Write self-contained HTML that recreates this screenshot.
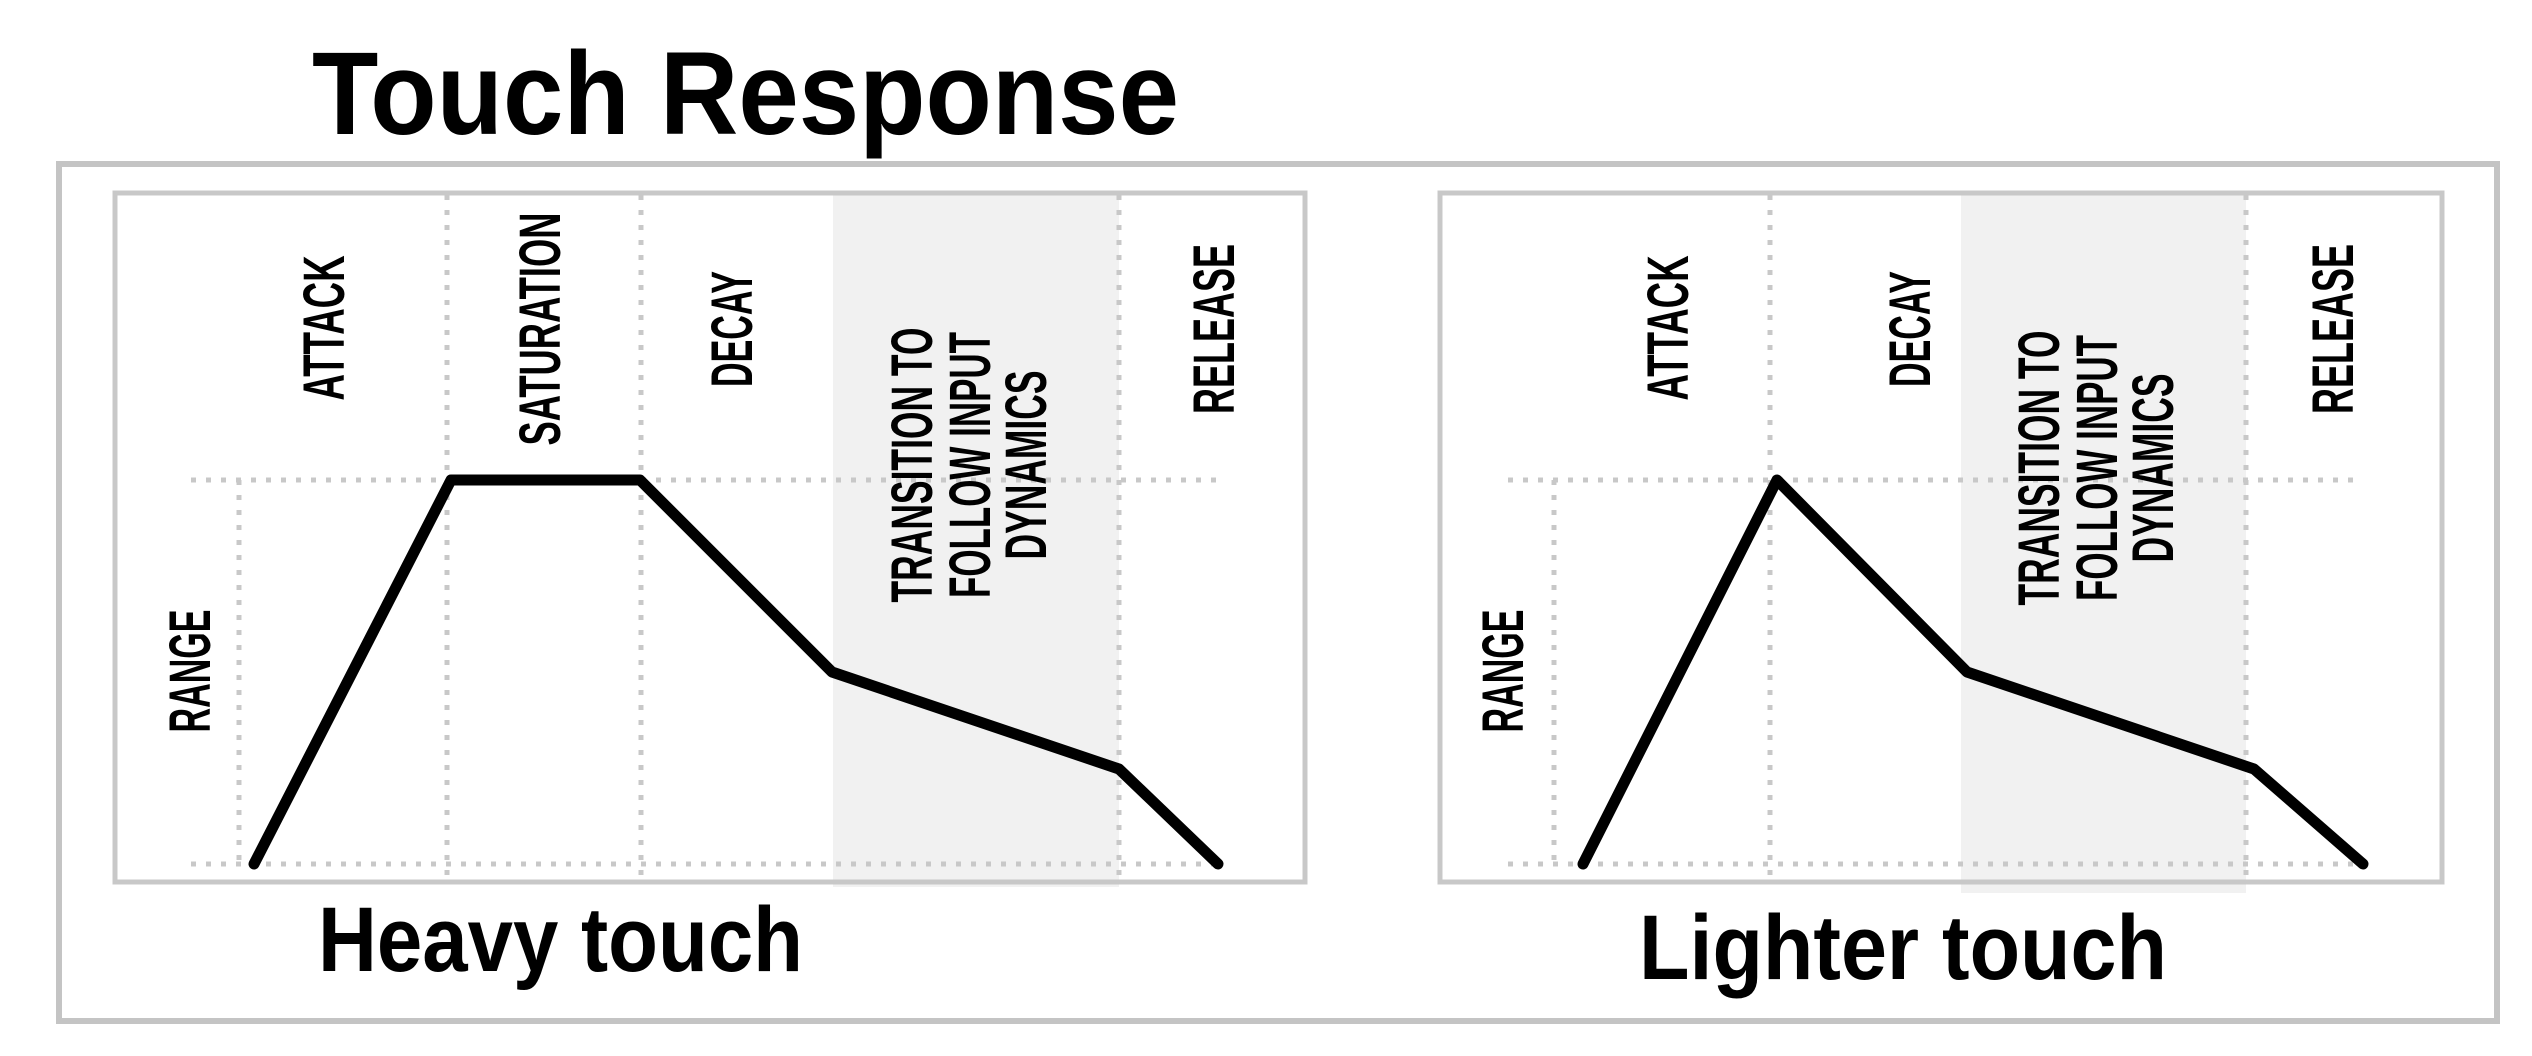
<!DOCTYPE html>
<html><head><meta charset="utf-8"><style>html,body{margin:0;padding:0;background:#fff}svg{display:block}</style></head>
<body>
<svg width="2532" height="1056" viewBox="0 0 2532 1056" xmlns="http://www.w3.org/2000/svg" font-family="'Liberation Sans Narrow','Liberation Sans',sans-serif" font-weight="bold">
<rect x="0" y="0" width="2532" height="1056" fill="#fff"/>
<text x="312" y="134" font-size="118" textLength="867" lengthAdjust="spacingAndGlyphs" font-family="'Liberation Sans',sans-serif">Touch Response</text>
<rect x="59" y="164" width="2438" height="857" fill="none" stroke="#c4c4c4" stroke-width="6"/>
<!-- left chart -->
<rect x="833" y="192" width="286" height="695" fill="#f1f1f1"/>
<rect x="115" y="193" width="1190" height="689" fill="none" stroke="#c8c8c8" stroke-width="5"/>
<g stroke="#c8c8c8" stroke-width="5" stroke-dasharray="5 10" fill="none">
<line x1="191" y1="480" x2="1219" y2="480"/><line x1="191" y1="864" x2="1219" y2="864"/>
<line x1="239" y1="480" x2="239" y2="864"/>
<line x1="447" y1="195" x2="447" y2="882"/><line x1="641" y1="195" x2="641" y2="882"/><line x1="1119" y1="195" x2="1119" y2="882"/>
</g>
<polyline points="254,864 451,480 640,480 832,672 1119,769 1218,864" fill="none" stroke="#000" stroke-width="11" stroke-linecap="round" stroke-linejoin="round"/>
<!-- right chart -->
<rect x="1961" y="192" width="285" height="701" fill="#f1f1f1"/>
<rect x="1440" y="193" width="1002" height="689" fill="none" stroke="#c8c8c8" stroke-width="5"/>
<g stroke="#c8c8c8" stroke-width="5" stroke-dasharray="5 10" fill="none">
<line x1="1508" y1="480" x2="2361" y2="480"/><line x1="1508" y1="864" x2="2361" y2="864"/>
<line x1="1554" y1="480" x2="1554" y2="864"/>
<line x1="1770" y1="195" x2="1770" y2="882"/><line x1="2246" y1="195" x2="2246" y2="882"/>
</g>
<polyline points="1583,864 1777,480 1967,672 2254,769 2363,864" fill="none" stroke="#000" stroke-width="11" stroke-linecap="round" stroke-linejoin="round"/>
<!-- rotated labels -->
<g font-size="58" text-anchor="middle" fill="#000">
<text transform="translate(210,671) rotate(-90)" textLength="123" lengthAdjust="spacingAndGlyphs">RANGE</text>
<text transform="translate(344,328) rotate(-90)" textLength="145" lengthAdjust="spacingAndGlyphs">ATTACK</text>
<text transform="translate(560,329) rotate(-90)" textLength="233" lengthAdjust="spacingAndGlyphs">SATURATION</text>
<text transform="translate(752,329) rotate(-90)" textLength="116" lengthAdjust="spacingAndGlyphs">DECAY</text>
<text transform="translate(932,465) rotate(-90)" textLength="275" lengthAdjust="spacingAndGlyphs">TRANSITION TO</text>
<text transform="translate(990,465) rotate(-90)" textLength="266" lengthAdjust="spacingAndGlyphs">FOLLOW INPUT</text>
<text transform="translate(1046,465) rotate(-90)" textLength="189" lengthAdjust="spacingAndGlyphs">DYNAMICS</text>
<text transform="translate(1234,329) rotate(-90)" textLength="170" lengthAdjust="spacingAndGlyphs">RELEASE</text>
<text transform="translate(1523,671) rotate(-90)" textLength="123" lengthAdjust="spacingAndGlyphs">RANGE</text>
<text transform="translate(1688,328) rotate(-90)" textLength="145" lengthAdjust="spacingAndGlyphs">ATTACK</text>
<text transform="translate(1930,329) rotate(-90)" textLength="116" lengthAdjust="spacingAndGlyphs">DECAY</text>
<text transform="translate(2059,468) rotate(-90)" textLength="275" lengthAdjust="spacingAndGlyphs">TRANSITION TO</text>
<text transform="translate(2117,468) rotate(-90)" textLength="266" lengthAdjust="spacingAndGlyphs">FOLLOW INPUT</text>
<text transform="translate(2173,468) rotate(-90)" textLength="189" lengthAdjust="spacingAndGlyphs">DYNAMICS</text>
<text transform="translate(2353,329) rotate(-90)" textLength="170" lengthAdjust="spacingAndGlyphs">RELEASE</text>
</g>
<text x="318" y="971" font-size="92" textLength="485" lengthAdjust="spacingAndGlyphs" font-family="'Liberation Sans',sans-serif">Heavy touch</text>
<text x="1639" y="979" font-size="92" textLength="528" lengthAdjust="spacingAndGlyphs" font-family="'Liberation Sans',sans-serif">Lighter touch</text>
</svg>
</body></html>
